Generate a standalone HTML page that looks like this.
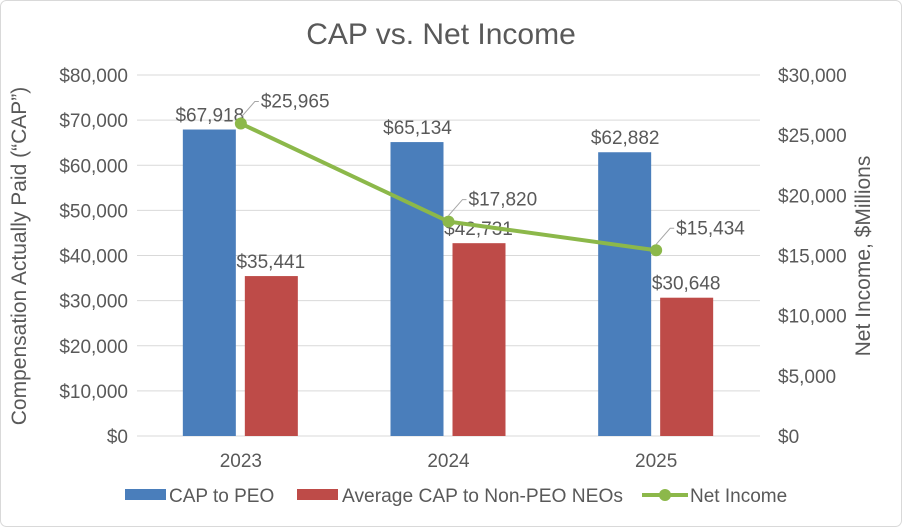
<!DOCTYPE html>
<html><head><meta charset="utf-8"><style>
body{margin:0;background:#fff}
svg{font-family:"Liberation Sans",Arial,sans-serif;fill:#595959}
</style></head><body>
<svg id="c" width="902" height="527" viewBox="0 0 902 527">
<rect x="0.5" y="0.5" width="901" height="526" rx="6" fill="#fff" stroke="#d9d9d9"/>
<text x="441" y="44" font-size="30" text-anchor="middle">CAP vs. Net Income</text>
<text transform="translate(26,256) rotate(-90)" font-size="21" text-anchor="middle">Compensation Actually Paid (“CAP”)</text>
<text transform="translate(870,256) rotate(-90)" font-size="21" text-anchor="middle">Net Income, $Millions</text>
<g id="grid"></g>
<g id="g"></g>
<g>
<rect x="125" y="489" width="41" height="11" fill="#4a7ebb"/>
<text x="169" y="502" font-size="19">CAP to PEO</text>
<rect x="297" y="489" width="41" height="11" fill="#be4b48"/>
<text x="342" y="502" font-size="19" textLength="281" lengthAdjust="spacingAndGlyphs">Average CAP to Non-PEO NEOs</text>
<line x1="642" y1="495" x2="688" y2="495" stroke="#8cb84a" stroke-width="4"/>
<circle cx="665" cy="495" r="6" fill="#8cb84a"/>
<text x="690" y="502" font-size="19">Net Income</text>
</g>
</svg>
<script>
const categories=["2023","2024","2025"];
const capPeo=[67918,65134,62882];
const capNeo=[35441,42731,30648];
const netIncome=[25965,17820,15434];
const leftTicks=[0,10000,20000,30000,40000,50000,60000,70000,80000];
const rightTicks=[0,5000,10000,15000,20000,25000,30000];
const NS="http://www.w3.org/2000/svg",g=document.getElementById('g'),grid=document.getElementById('grid');
const yTop=75,yBot=436,x0=137,x1=760;
const yL=v=>yBot-(v/80000)*(yBot-yTop), yR=v=>yBot-(v/30000)*(yBot-yTop);
const cw=(x1-x0)/categories.length, cx=i=>x0+cw*(i+0.5);
const fmt=v=>'$'+v.toLocaleString('en-US');
function el(t,a,txt,p){const e=document.createElementNS(NS,t);for(const k in a)e.setAttribute(k,a[k]);if(txt!=null)e.textContent=txt;(p||g).appendChild(e);return e;}
leftTicks.forEach(v=>{
const gl=el('line',{x1:x0,x2:x1,y1:yL(v),y2:yL(v),stroke:'#d9d9d9','stroke-width':1},null,grid);


const t=el('text',{x:128,y:yL(v)+7,'font-size':19,'text-anchor':'end'},fmt(v));

});
rightTicks.forEach(v=>{const t=el('text',{x:778,y:yR(v)+7,'font-size':19},fmt(v));

});
categories.forEach((c,i)=>{
const x=cx(i);
const t=el('text',{x:x,y:467,'font-size':19,'text-anchor':'middle'},c);


const b=el('rect',{x:x-58,y:yL(capPeo[i]),width:53,height:yBot-yL(capPeo[i]),fill:'#4a7ebb'});


const r=el('rect',{x:x+4,y:yL(capNeo[i]),width:53,height:yBot-yL(capNeo[i]),fill:'#be4b48'});


const l1=el('text',{x:x-31,y:yL(capPeo[i])-8,'font-size':19,'text-anchor':'middle'},fmt(capPeo[i]));


const l2=el('text',{x:x+30,y:yL(capNeo[i])-8,'font-size':19,'text-anchor':'middle'},fmt(capNeo[i]));


});
const pts=netIncome.map((v,i)=>[cx(i),yR(v)]);
const pl=el('polyline',{points:pts.map(p=>p.join(',')).join(' '),fill:'none',stroke:'#8cb84a','stroke-width':4});


pts.forEach((p,i)=>{
const ld=el('polyline',{points:`${p[0]},${p[1]-6} ${p[0]+14},${p[1]-22} ${p[0]+18},${p[1]-22}`,fill:'none',stroke:'#a6a6a6'});


const c=el('circle',{cx:p[0],cy:p[1],r:6,fill:'#8cb84a'});


const t=el('text',{x:p[0]+20,y:p[1]-16,'font-size':19},fmt(netIncome[i]));


});
</script>
</body></html>
